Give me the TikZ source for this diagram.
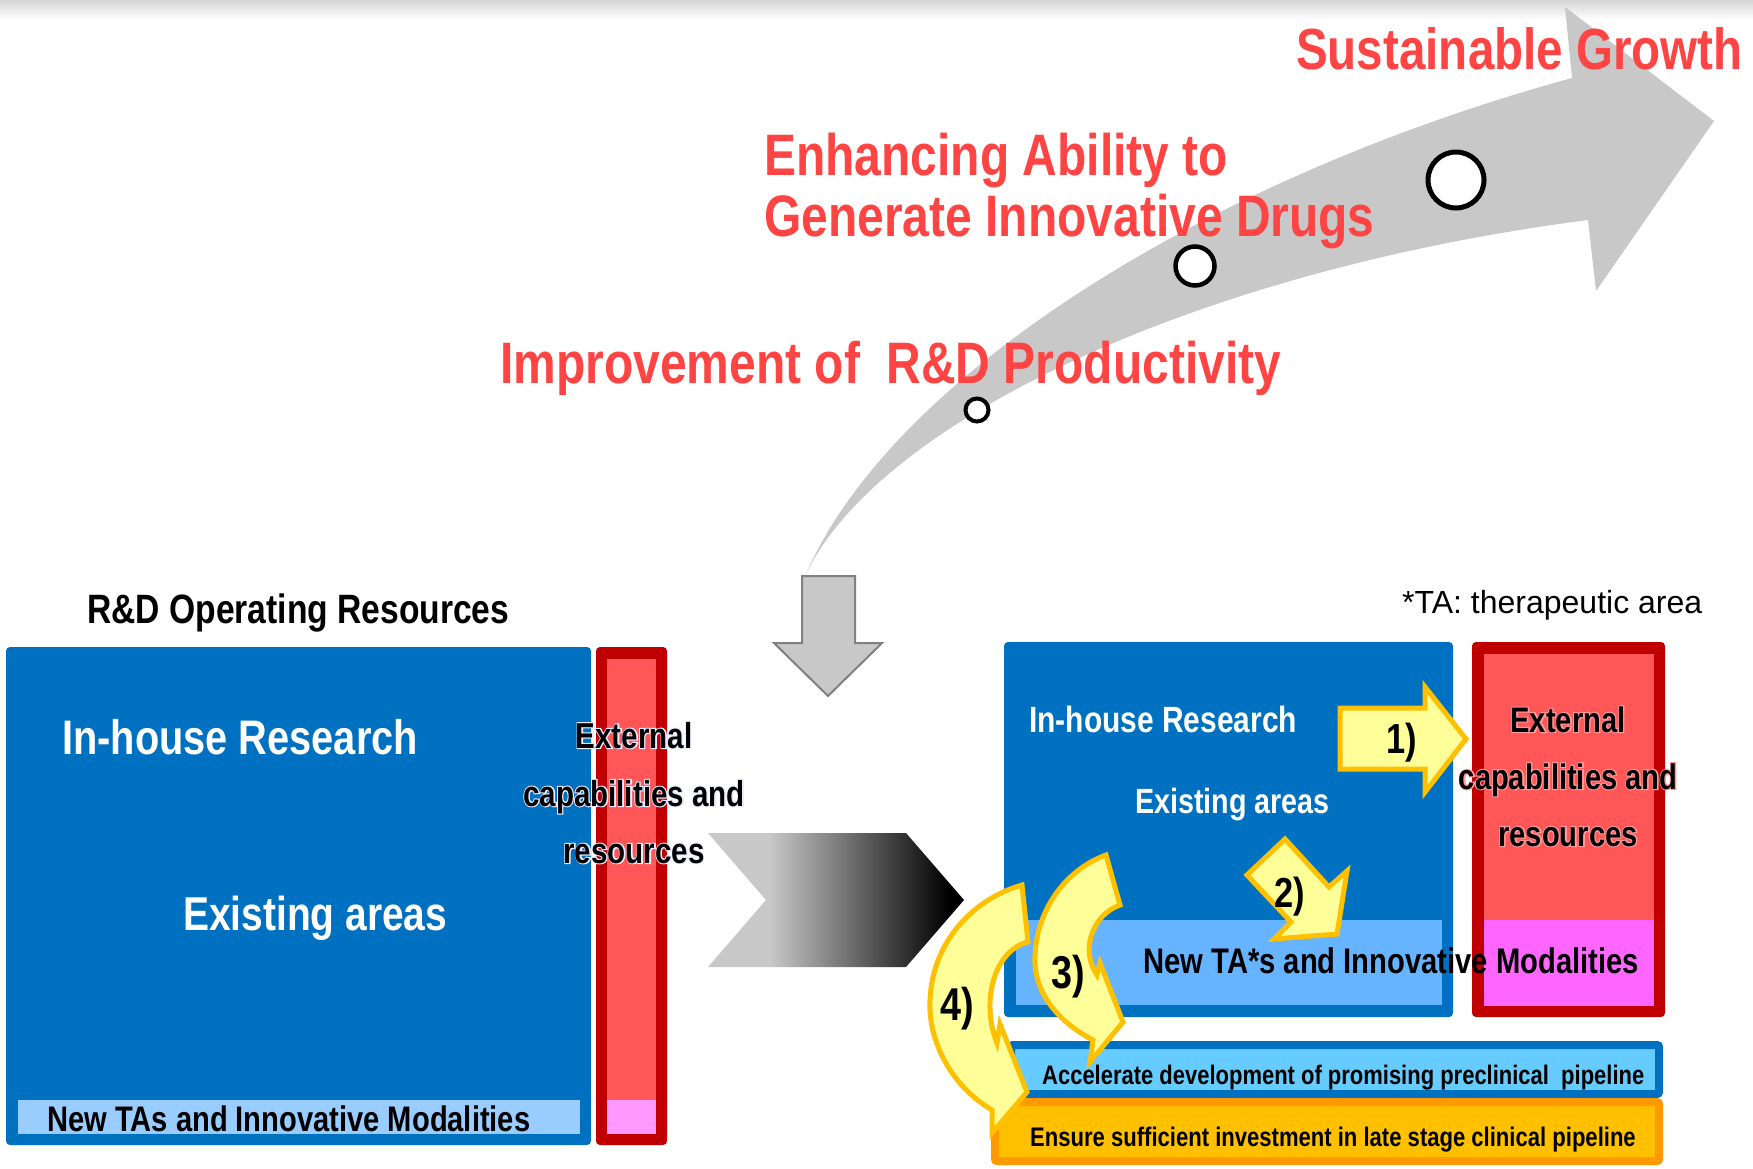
\documentclass[tikz,border=0pt]{standalone}
\usepackage{fontspec}
\newfontfamily\cb{Liberation Sans}[FakeStretch=0.82]
\newfontfamily\cbglow{Liberation Sans}[FakeStretch=0.82, FakeBold=6]
\newfontfamily\tafont{Liberation Sans}
\definecolor{bblue}{HTML}{0070C0}
\definecolor{dred}{HTML}{C00000}
\definecolor{rfill}{HTML}{FF5757}
\definecolor{lblue}{HTML}{99CCFF}
\definecolor{lpink}{HTML}{FF99FF}
\definecolor{rblue}{HTML}{66B3FF}
\definecolor{rpink}{HTML}{FF66FF}
\definecolor{accfill}{HTML}{66CCFF}
\definecolor{ensfill}{HTML}{FFC000}
\definecolor{ensline}{HTML}{FF9900}
\definecolor{yfill}{HTML}{FFFF99}
\definecolor{yline}{HTML}{FFC000}
\definecolor{agray}{HTML}{C8C8C8}
\definecolor{cgray}{HTML}{C8C8C8}
\definecolor{redtxt}{HTML}{FF4444}
\definecolor{rglow}{HTML}{FF9A9A}
\pgfdeclarehorizontalshading{chevshade}{100bp}{color(0bp)=(cgray); color(37bp)=(cgray); color(72bp)=(black); color(100bp)=(black)}
\begin{document}
\begin{tikzpicture}[x=1pt,y=-1pt,
  wt/.style={inner sep=0pt, anchor=base west, text=white, font=\cb\bfseries\fontsize{#1}{#1}\selectfont},
  kt/.style={inner sep=0pt, anchor=base west, text=black, font=\cb\bfseries\fontsize{#1}{#1}\selectfont},
  kc/.style={inner sep=0pt, anchor=base, text=black, font=\cb\bfseries\fontsize{#1}{#1}\selectfont},
  gc/.style={inner sep=0pt, anchor=base, font=\cbglow\bfseries\fontsize{#1}{#1}\selectfont},
  rt/.style={inner sep=0pt, anchor=base west, text=redtxt, font=\cb\bfseries\fontsize{#1}{#1}\selectfont},
  yarrow/.style={fill=yfill, draw=yline, line width=5pt, line join=miter},
  numlbl/.style={inner sep=0pt, anchor=base, text=black, font=\cb\bfseries\fontsize{#1}{#1}\selectfont},
  ring/.style={draw=black, fill=white},
]
\useasboundingbox (0,0) rectangle (1753,1168);
\fill[white] (0,0) rectangle (1753,1168);
\shade[top color=black!16, bottom color=white] (0,0) rectangle (1753,20);

% big curved arrow
\fill[agray] (806,574) .. controls (890,380) and (1200,180) .. (1572,78) -- (1565,7) -- (1714,121) -- (1596,291) -- (1588,220) .. controls (1200,270) and (880,420) .. (806,574) -- cycle;
\draw[ring, line width=5pt] (1456,180) circle[radius=28];
\draw[ring, line width=4.5pt] (1195,266) circle[radius=19.5];
\draw[ring, line width=4pt] (977,410) circle[radius=11.5];

\node[rt=58] (tsg) at (1296,69) {Sustainable Growth};
\node[rt=58.5] (tea) at (764,175) {Enhancing Ability to};
\node[rt=58.5] (tgi) at (764,236) {Generate Innovative Drugs};
\node[rt=58.5] (tim) at (500,383) {Improvement of\ \ R\&D Productivity};

% down arrow
\filldraw[fill=agray, draw=gray, line width=2pt] (802,576) -- (855,576) -- (855,643) -- (882,643) -- (828,696) -- (774,643) -- (802,643) -- cycle;

% left side
\node[kt=41] (tres) at (87,623) {R\&D Operating Resources};
\fill[bblue, rounded corners=4pt] (6,647) rectangle (591,1145);
\fill[lblue] (18,1100) rectangle (580,1134);
\fill[dred, rounded corners=4pt] (596,647) rectangle (667,1145);
\fill[rfill] (607,659) rectangle (656,1134);
\fill[lpink] (607,1100) rectangle (656,1134);
\node[wt=48.5] (lin) at (62,754) {In-house Research};
\node[wt=47.5] (lex) at (183,930) {Existing areas};
\node[kt=35.5] (lnew) at (47,1131) {New TAs and Innovative Modalities};
\node[gc=36, text=white!92!blue] (lglow) at (634,748) {External};
\node[gc=36, text=white!92!blue] at (634,806) {capabilities and};
\node[gc=36, text=white!92!blue] at (634,863) {resources};
\node[kc=36] (lext1) at (634,748) {External};
\node[kc=36] (lext2) at (634,806) {capabilities and};
\node[kc=36] (lext3) at (634,863) {resources};

% chevron
\shade[shading=chevshade] (708,833) -- (906,833) -- (964,900) -- (906,967) -- (708,967) -- (766,900) -- cycle;

% right side
\node[inner sep=0pt, anchor=base west, font=\tafont\fontsize{32}{32}\selectfont] (tnote) at (1402,613) {*TA: therapeutic area};
\fill[bblue, rounded corners=4pt] (1004,642) rectangle (1453,1017);
\fill[rblue] (1016,920) rectangle (1442,1005);
\fill[dred, rounded corners=4pt] (1472,642) rectangle (1665,1017);
\fill[rfill] (1484,654) rectangle (1654,1006);
\fill[rpink] (1484,920) rectangle (1654,1006);
\node[wt=36.5] (rin) at (1029,732) {In-house Research};
\node[wt=35] (rex) at (1135,813) {Existing areas};
\node[gc=35.5, text=rglow] (rglow1) at (1568,732) {External};
\node[gc=35.5, text=rglow] at (1568,789) {capabilities and};
\node[gc=35.5, text=rglow] at (1568,846) {resources};
\node[kc=35.5] (rext1) at (1568,732) {External};
\node[kc=35.5] (rext2) at (1568,789) {capabilities and};
\node[kc=35.5] (rext3) at (1568,846) {resources};
\node[kt=35.6] (rnew) at (1143,973) {New TA*s and Innovative Modalities};

\filldraw[fill=accfill, draw=bblue, line width=8pt, rounded corners=2pt] (1011,1045) rectangle (1659,1094);
\filldraw[fill=ensfill, draw=ensline, line width=8pt, rounded corners=2pt] (995,1102) rectangle (1659,1161);
\node[kt=26.8] (tacc) at (1042,1084) {Accelerate development of promising preclinical\ \ pipeline};
\node[kt=26.9] (tens) at (1030,1146) {Ensure sufficient investment in late stage clinical pipeline};

% yellow arrows
\draw[yarrow] (1340,708) -- (1425,708) -- (1425,687) -- (1466,739) -- (1425,792) -- (1425,769) -- (1340,769) -- cycle;
\node[numlbl=42] (n1) at (1402,753) {1)};
\draw[yarrow] (1285,839) -- (1329,887) -- (1347,871) -- (1337,934) -- (1274,939) -- (1291,922) -- (1247,875) -- cycle;
\node[numlbl=42] (n2) at (1290,907) {2)};
\draw[yarrow] (1022,885) -- (1028,942) .. controls (995,950) and (980,1000) .. (997,1043) -- (1000,1024) -- (1027,1092) -- (992,1133) -- (992,1110) .. controls (950,1085) and (928,1040) .. (930,1000) .. controls (932,945) and (970,900) .. (1022,885) -- cycle;
\node[numlbl=46] (n4) at (957,1020) {4)};
\draw[yarrow] (1106,855) -- (1120,905) .. controls (1092,915) and (1080,950) .. (1097,975) -- (1100,963) -- (1123,1022) -- (1090,1062) -- (1093,1040) .. controls (1055,1020) and (1033,990) .. (1035,955) .. controls (1037,910) and (1065,870) .. (1106,855) -- cycle;
\node[numlbl=46] (n3) at (1068,988) {3)};
\end{tikzpicture}
\end{document}
